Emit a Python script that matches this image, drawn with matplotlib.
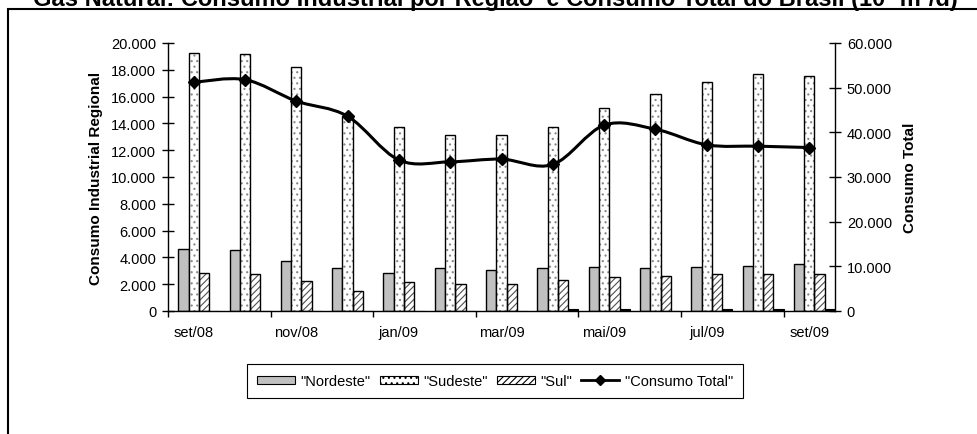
import numpy as np
import matplotlib
matplotlib.use("Agg")
import matplotlib.pyplot as plt
from matplotlib.path import Path
from matplotlib.patches import PathPatch, Rectangle, Patch
from matplotlib.lines import Line2D
from matplotlib.ticker import FuncFormatter

plt.rcParams['font.family'] = ['Liberation Sans', 'DejaVu Sans']
plt.rcParams['hatch.linewidth'] = 0.8

# ==========================================
# DATA (10^3 m3/d)
# ==========================================
meses = ["set/08", "out/08", "nov/08", "dez/08", "jan/09", "fev/09", "mar/09",
         "abr/09", "mai/09", "jun/09", "jul/09", "ago/09", "set/09"]
nordeste = [4630, 4530, 3710, 3190, 2860, 3190, 3060, 3190, 3260, 3190, 3260, 3380, 3510]
sudeste = [19250, 19180, 18180, 14530, 13710, 13160, 13160, 13710, 15150, 16190, 17060, 17690, 17560]
sul = [2860, 2740, 2240, 1490, 2140, 2010, 2010, 2310, 2540, 2640, 2740, 2740, 2740]
outros = [0, 0, 0, 0, 0, 0, 0, 150, 120, 0, 130, 120, 130]
consumo_total = [51200, 51800, 47000, 43600, 33800, 33400, 34000, 32800, 41600, 40700, 37200, 36900, 36600]

def fmt_milhar(v, pos):
    return f"{int(round(v)):,}".replace(",", ".")

# ==========================================
# FIGURE
# ==========================================
fig = plt.figure(figsize=(9.77, 4.35), dpi=100)
W, H = 977.0, 435.0
ax = fig.add_axes([168 / W, 1 - 312 / H, (835 - 168) / W, (312 - 44) / H])

x = np.arange(len(meses))
w = 0.2

ax.bar(x - 0.2, nordeste, w, color="#c0c0c0", edgecolor="black", linewidth=1.0, zorder=2)
# Sudeste: pontilhado cinza + contorno preto
ax.bar(x, sudeste, w, color="white", edgecolor="#888888", linewidth=0, hatch="...", zorder=2)
ax.bar(x, sudeste, w, fill=False, edgecolor="black", linewidth=1.0, zorder=3)
# Sul: hachurado diagonal
ax.bar(x + 0.2, sul, w, color="white", edgecolor="#505050", linewidth=0, hatch="/////", zorder=2)
ax.bar(x + 0.2, sul, w, fill=False, edgecolor="black", linewidth=1.0, zorder=3)
ax.bar(x + 0.4, outros, w, color="black", edgecolor="black", linewidth=0.8, zorder=2)

ax.set_xlim(-0.5, len(meses) - 0.5)
ax.set_ylim(0, 20000)
ax.set_yticks(np.arange(0, 20001, 2000))
ax.yaxis.set_major_formatter(FuncFormatter(fmt_milhar))
ax.tick_params(axis="y", direction="inout", length=9, width=1, labelsize=10.5, pad=4)

# ticks at category boundaries, labels at category centres
ax.set_xticks(np.arange(-0.5, len(meses) - 0.5, 2))
ax.set_xticklabels([])
ax.tick_params(axis="x", which="major", direction="out", length=4, width=1)
ax.set_xticks(x[::2], minor=True)
ax.set_xticklabels(meses[::2], minor=True)
ax.tick_params(axis="x", which="minor", length=0, labelsize=10.5, pad=10)

ax.spines["top"].set_visible(False)
ax.spines["right"].set_visible(False)
for s in ("left", "bottom"):
    ax.spines[s].set_linewidth(1)
ax.set_ylabel("Consumo Industrial Regional", fontsize=11, fontweight="bold", labelpad=6)

# ==========================================
# SECONDARY AXIS: CONSUMO TOTAL (smoothed line)
# ==========================================
ax2 = ax.twinx()
ax2.set_ylim(0, 60000)
ax2.set_yticks(np.arange(0, 60001, 10000))
ax2.yaxis.set_major_formatter(FuncFormatter(fmt_milhar))
ax2.tick_params(axis="y", direction="inout", length=9, width=1, labelsize=10.5, pad=4)
for s in ("top", "left", "bottom"):
    ax2.spines[s].set_visible(False)
ax2.spines["right"].set_linewidth(1)
ax2.set_ylabel("Consumo Total", fontsize=11, fontweight="bold", labelpad=8)

pts = np.column_stack([x, consumo_total]).astype(float)
ext = np.vstack([pts[0], pts, pts[-1]])
verts = [tuple(pts[0])]
codes = [Path.MOVETO]
for i in range(len(pts) - 1):
    p0, p1, p2, p3 = ext[i], ext[i + 1], ext[i + 2], ext[i + 3]
    c1 = p1 + (p2 - p0) / 6.0
    c2 = p2 - (p3 - p1) / 6.0
    verts += [tuple(c1), tuple(c2), tuple(p2)]
    codes += [Path.CURVE4] * 3
ax2.add_patch(PathPatch(Path(verts, codes), fill=False, edgecolor="black", linewidth=2.2, zorder=4))
ax2.plot(x, consumo_total, linestyle="none", marker="D", markersize=6.5, color="black", zorder=5)

# ==========================================
# LEGEND, TITLE, FRAME
# ==========================================
handles = [
    Patch(facecolor="#c0c0c0", edgecolor="black", linewidth=0.8),
    Patch(facecolor="white", edgecolor="black", linewidth=0.8, hatch="..."),
    Patch(facecolor="white", edgecolor="black", linewidth=0.8, hatch="/////"),
    Line2D([], [], color="black", linewidth=2, marker="D", markersize=5),
]
labels = ['"Nordeste"', '"Sudeste"', '"Sul"', '"Consumo Total"']
leg = fig.legend(handles, labels, loc="center", bbox_to_anchor=(495 / W, 1 - 382 / H),
                 ncol=4, fontsize=10.5, frameon=True, fancybox=False, framealpha=1,
                 edgecolor="black", handlelength=2.6, handleheight=0.5,
                 handletextpad=0.4, columnspacing=0.6, borderpad=0.7)
leg.get_frame().set_linewidth(0.8)

fig.text(33 / W, 1 - 6 / H, "Gás Natural: Consumo Industrial por Região  e Consumo Total do Brasil (10³ m³/d)",
         fontsize=17, fontweight="bold", ha="left", va="baseline")

fig.patches.append(Rectangle((8 / W, -0.1), 1.2, 1.1 - 10 / H, transform=fig.transFigure,
                             fill=False, edgecolor="black", linewidth=1.5, zorder=0))

fig.savefig("out.png", dpi=100)
